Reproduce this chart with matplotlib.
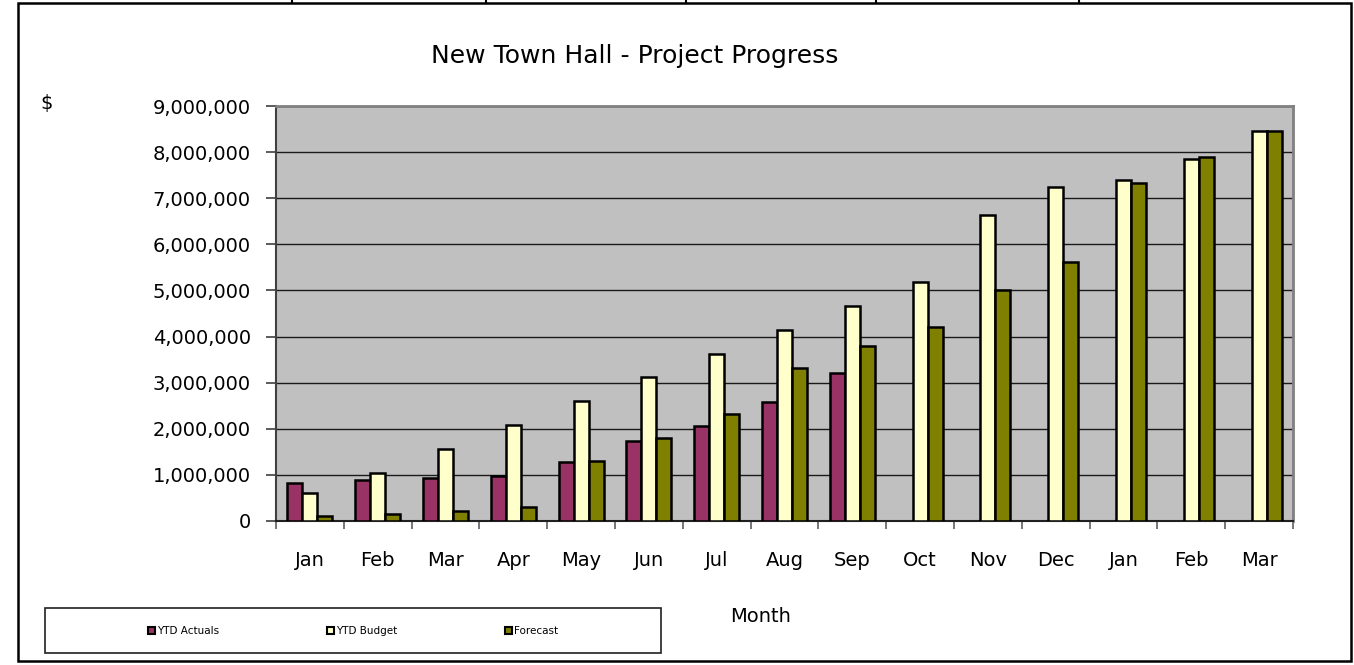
import matplotlib
matplotlib.use("Agg")
import matplotlib.pyplot as plt
import numpy as np
from matplotlib.patches import Rectangle, Patch
from matplotlib.lines import Line2D
from matplotlib.ticker import FuncFormatter, MultipleLocator

months = ["Jan", "Feb", "Mar", "Apr", "May", "Jun", "Jul", "Aug", "Sep",
          "Oct", "Nov", "Dec", "Jan", "Feb", "Mar"]
ytd_actuals = [830000, 900000, 940000, 980000, 1280000, 1740000, 2050000,
               2590000, 3200000, None, None, None, None, None, None]
ytd_budget = [610000, 1050000, 1560000, 2080000, 2600000, 3120000, 3620000,
              4140000, 4660000, 5180000, 6640000, 7240000, 7400000, 7840000, 8460000]
forecast = [110000, 160000, 210000, 310000, 1310000, 1810000, 2310000,
            3310000, 3800000, 4200000, 5000000, 5620000, 7330000, 7890000, 8460000]
series_names = ["YTD Actuals", "YTD Budget", "Forecast"]
series_colors = ["#993366", "#FFFFCC", "#808000"]

W, H = 1354, 665
fig = plt.figure(figsize=(W / 100, H / 100), dpi=100)
plt.rcParams['font.family'] = ['DejaVu Sans']

def fx(px):
    return px / W

def fy(py):
    return 1 - py / H

ax = fig.add_axes([fx(276), fy(521), fx(1293) - fx(276), fy(106) - fy(521)])
ax.set_facecolor("#C0C0C0")

x = np.arange(len(months))
bw = 0.222
data = [ytd_actuals, ytd_budget, forecast]
for i, (vals, col) in enumerate(zip(data, series_colors)):
    v = np.array([np.nan if a is None else a for a in vals], dtype=float)
    ax.bar(x + (i - 1) * bw, v, width=bw, color=col, edgecolor="black",
           linewidth=1.8, zorder=3)

ax.set_xlim(-0.5, len(months) - 0.5)
ax.set_ylim(0, 9000000)
ax.yaxis.set_major_locator(MultipleLocator(1000000))
ax.yaxis.set_major_formatter(FuncFormatter(lambda v, p: f"{int(v):,}"))
ax.grid(axis="y", color="#1a1a1a", linewidth=1.0, zorder=1)
ax.set_axisbelow(True)

ax.set_xticks(x)
ax.set_xticklabels(months)
ax.set_xticks(np.arange(-0.5, len(months)), minor=True)
ax.tick_params(axis="x", which="major", length=0, pad=21.5, labelsize=14)
ax.tick_params(axis="x", which="minor", length=6, width=1.2, color="#606060", direction="out")
ax.tick_params(axis="y", length=7, width=1.2, color="#404040", pad=11, labelsize=14)

for s in ["top", "right"]:
    ax.spines[s].set_color("#808080")
    ax.spines[s].set_linewidth(2)
ax.spines["left"].set_color("#404040")
ax.spines["left"].set_linewidth(1.5)
ax.spines["bottom"].set_color("#202020")
ax.spines["bottom"].set_linewidth(1.5)

fig.text(fx(635), fy(56), "New Town Hall - Project Progress", ha="center",
         va="center", fontsize=18)
fig.text(fx(47), fy(104), "$", ha="center", va="center", fontsize=14)
fig.text(fx(761), fy(617), "Month", ha="center", va="center", fontsize=14)

# outer chart frame
fig.patches.append(Rectangle((fx(18), fy(661)), fx(1351) - fx(18), fy(3) - fy(661),
                             transform=fig.transFigure, fill=False,
                             edgecolor="black", linewidth=1.8))
for px in [292, 486, 686, 876, 1079]:
    fig.lines.append(Line2D([fx(px), fx(px)], [fy(0), fy(2)], transform=fig.transFigure,
                            color="black", linewidth=1.5))

# legend box
fig.patches.append(Rectangle((fx(45), fy(653)), fx(661) - fx(45), fy(608) - fy(653),
                             transform=fig.transFigure, fill=True, facecolor="white",
                             edgecolor="#202020", linewidth=1.2))
handles = [Patch(facecolor=c, edgecolor="black", linewidth=1.5) for c in series_colors]
fig.legend(handles, series_names, loc="center", bbox_to_anchor=(fx(353), fy(631)),
           ncol=3, frameon=False, fontsize=7.5, handlelength=0.7, handleheight=0.7,
           handletextpad=0.2, columnspacing=10.3)

fig.savefig("out.png", dpi=100)
